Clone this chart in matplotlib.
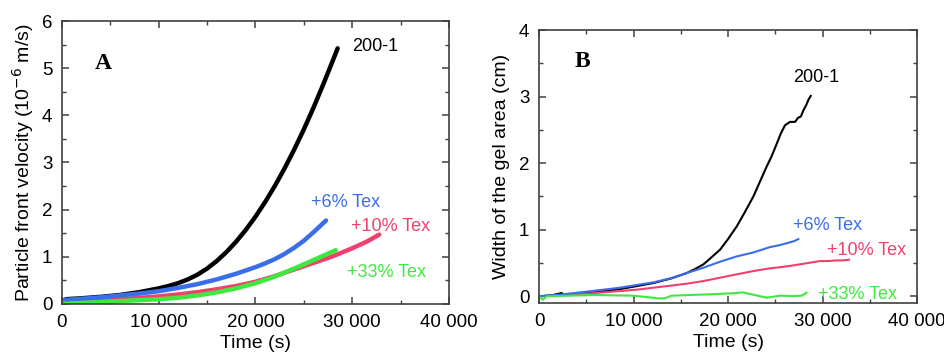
import matplotlib
matplotlib.use('Agg')
import matplotlib.pyplot as plt
from matplotlib.ticker import MultipleLocator, FuncFormatter

plt.rcParams['font.family'] = ['Liberation Sans', 'DejaVu Sans']

# ---- panel A: particle front velocity (1e-6 m/s) ----
tA_black = [400, 2000, 4000, 6000, 8000, 9000, 10000, 11000, 12000, 13000, 14000, 15000,
            16000, 17000, 18000, 19000, 20000, 21000, 22000, 23000, 24000, 25000, 26000,
            27000, 28000, 28500]
vA_black = [0.10, 0.12, 0.15, 0.19, 0.25, 0.29, 0.33, 0.38, 0.44, 0.52, 0.62, 0.75,
            0.91, 1.10, 1.32, 1.57, 1.85, 2.16, 2.50, 2.87, 3.27, 3.70, 4.16,
            4.65, 5.16, 5.42]
tA_blue = [0, 2000, 4000, 6000, 8000, 10000, 12000, 14000, 16000, 18000, 20000, 21000,
           22000, 23000, 24000, 25000, 26000, 27300]
vA_blue = [0.08, 0.11, 0.14, 0.18, 0.22, 0.27, 0.34, 0.42, 0.52, 0.64, 0.78, 0.86,
           0.95, 1.06, 1.19, 1.34, 1.52, 1.77]
tA_red = [0, 2500, 5000, 7500, 10000, 12000, 14000, 16000, 18000, 20000, 22000, 24000,
          26000, 28000, 30000, 31500, 32800]
vA_red = [0.035, 0.06, 0.09, 0.12, 0.16, 0.20, 0.25, 0.31, 0.38, 0.47, 0.59, 0.73,
          0.87, 1.01, 1.18, 1.32, 1.47]
tA_green = [0, 2500, 5000, 7500, 10000, 12000, 14000, 16000, 18000, 20000, 22000, 24000,
            26000, 28300]
vA_green = [0.0, 0.025, 0.05, 0.075, 0.10, 0.13, 0.18, 0.245, 0.33, 0.44, 0.58, 0.75,
            0.93, 1.14]

# ---- panel B: width of the gel area (cm) ----
tB_black = [0, 1500, 2400, 2600, 3500, 5000, 7000, 8570, 10000, 12100, 14000, 15630,
            16500, 17390, 18200, 19150, 20000, 20920, 21800, 22680, 23400, 24090, 24600,
            25150, 25600, 26030, 26560, 27090, 27400, 27700, 28000, 28300, 28500, 28750]
wB_black = [0.0, 0.02, 0.05, 0.02, 0.02, 0.05, 0.08, 0.11, 0.145, 0.20, 0.27, 0.35,
            0.41, 0.48, 0.58, 0.70, 0.86, 1.05, 1.27, 1.50, 1.73, 1.95, 2.10,
            2.29, 2.45, 2.57, 2.62, 2.62, 2.68, 2.70, 2.80, 2.88, 2.95, 3.01]
tB_blue = [0, 2500, 5000, 6800, 8570, 10300, 12100, 13900, 15630, 17390, 19150, 20920,
           22700, 24440, 25500, 26500, 27000, 27440]
wB_blue = [0.0, 0.03, 0.07, 0.10, 0.13, 0.17, 0.21, 0.27, 0.35, 0.43, 0.52, 0.60,
           0.66, 0.74, 0.77, 0.81, 0.83, 0.86]
tB_red = [0, 2500, 5000, 8570, 10300, 12100, 13900, 15630, 17400, 19150, 20900, 22680,
          24400, 26210, 28000, 29740, 30600, 31500, 32200, 32800]
wB_red = [0.0, 0.02, 0.04, 0.08, 0.10, 0.13, 0.16, 0.19, 0.23, 0.28, 0.33, 0.38,
          0.42, 0.45, 0.49, 0.53, 0.53, 0.54, 0.54, 0.55]
tB_green = [0, 400, 800, 3000, 6000, 10000, 12000, 12600, 13300, 14000, 18000, 20920,
            21500, 22500, 24090, 25500, 26900, 27800, 28300]
wB_green = [0.0, -0.05, 0.0, 0.01, 0.02, 0.01, -0.02, -0.03, -0.03, 0.01, 0.03, 0.05,
            0.06, 0.03, -0.02, 0.01, 0.005, 0.01, 0.055]

black, blue, red, green = '#000000', '#3a6ee8', '#f0416e', '#3ee83e'


def thousands(x, pos):
    return '{:,.0f}'.format(x).replace(',', ' ')


def style(ax, ymajor, yminor):
    ax.xaxis.set_major_locator(MultipleLocator(10000))
    ax.xaxis.set_minor_locator(MultipleLocator(5000))
    ax.yaxis.set_major_locator(MultipleLocator(ymajor))
    ax.yaxis.set_minor_locator(MultipleLocator(yminor))
    ax.xaxis.set_major_formatter(FuncFormatter(thousands))
    ax.tick_params(which='both', direction='in', top=True, right=True, labelsize=13.5,
                   color='#404040')
    ax.tick_params(which='major', length=5, width=1.1, pad=7)
    ax.tick_params(which='minor', length=3, width=1.0)
    for s in ax.spines.values():
        s.set_color('#404040')
        s.set_linewidth(1.2)
    ax.set_xlabel('Time (s)', fontsize=14, labelpad=3)


fig = plt.figure(figsize=(9.45, 3.53), dpi=100)
axA = fig.add_axes([0.0656, 0.139, 0.4094, 0.8015])
axB = fig.add_axes([0.5704, 0.1416, 0.400, 0.7734])

axA.plot(tA_black, vA_black, color=black, lw=3.2, solid_capstyle='round')
axA.plot(tA_red, vA_red, color=red, lw=3.2, solid_capstyle='round')
axA.plot(tA_blue, vA_blue, color=blue, lw=3.2, solid_capstyle='round')
axA.plot(tA_green, vA_green, color=green, lw=3.2, solid_capstyle='round')
axA.set_xlim(0, 40000)
axA.set_ylim(0, 6)
style(axA, 1, 0.5)
axA.set_ylabel('Particle front velocity (10$^{-6}$ m/s)', fontsize=14, labelpad=4)
axA.text(0.085, 0.85, 'A', transform=axA.transAxes, fontsize=17, fontweight='bold',
         family='Liberation Serif', va='center')
axA.text(30000, 5.45, '200-1', color=black, fontsize=13, va='center')
axA.text(25700, 2.16, '+6% Tex', color=blue, fontsize=13, va='center')
axA.text(29900, 1.65, '+10% Tex', color=red, fontsize=13, va='center')
axA.text(29500, 0.66, '+33% Tex', color=green, fontsize=13, va='center')

axB.plot(tB_black, wB_black, color=black, lw=1.5)
axB.plot(tB_red, wB_red, color=red, lw=1.5)
axB.plot(tB_blue, wB_blue, color=blue, lw=1.5)
axB.plot(tB_green, wB_green, color=green, lw=1.5)
axB.set_xlim(0, 40000)
axB.set_ylim(-0.1, 4)
style(axB, 1, 0.5)
axB.set_ylabel('Width of the gel area (cm)', fontsize=14, labelpad=6)
axB.text(0.095, 0.886, 'B', transform=axB.transAxes, fontsize=17, fontweight='bold',
         family='Liberation Serif', va='center')
axB.text(26900, 3.28, '200-1', color=black, fontsize=13, va='center')
axB.text(26900, 1.06, '+6% Tex', color=blue, fontsize=13, va='center')
axB.text(30500, 0.69, '+10% Tex', color=red, fontsize=13, va='center')
axB.text(29500, 0.03, '+33% Tex', color=green, fontsize=13, va='center')

fig.savefig('out.png', dpi=100)
